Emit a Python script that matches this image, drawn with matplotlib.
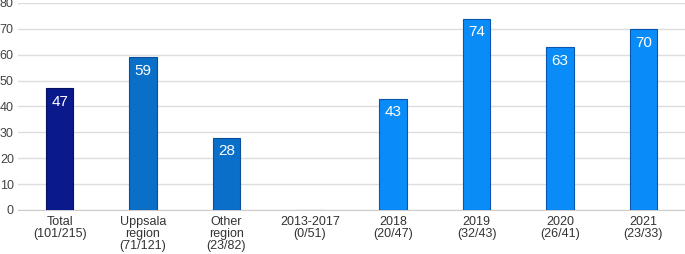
import matplotlib
matplotlib.use("Agg")
import matplotlib.pyplot as plt

categories = ["Total\n(101/215)", "Uppsala\nregion\n(71/121)", "Other\nregion\n(23/82)",
              "2013-2017\n(0/51)", "2018\n(20/47)", "2019\n(32/43)", "2020\n(26/41)", "2021\n(23/33)"]
values = [47, 59, 28, 0, 43, 74, 63, 70]
colors = ["#0a1a8c", "#0a6fc8", "#0a6fc8", "#0a8cf8", "#0a8cf8", "#0a8cf8", "#0a8cf8", "#0a8cf8"]
edges = ["#061060", "#0a4f9a", "#0a4f9a", "#0a55b0", "#0a55b0", "#0a55b0", "#0a55b0", "#0a55b0"]
yticks = [0, 10, 20, 30, 40, 50, 60, 70, 80]

plt.rcParams['font.family'] = ['Liberation Sans', 'DejaVu Sans']
fig = plt.figure(figsize=(6.85, 2.54), dpi=100)
ax = fig.add_axes([18/685, 44/254, 1 - 18/685, (210 - 3)/254])

x = list(range(len(values)))
bars = ax.bar(x, values, width=0.33, color=colors, edgecolor=edges, linewidth=0.8, zorder=3)
for xi, v in zip(x, values):
    if v > 0:
        ax.text(xi, v - 2.6, str(v), ha="center", va="top", color="white", fontsize=11, zorder=4)

ax.set_xlim(-0.5, len(values) - 0.5)
ax.set_ylim(0, 80)
ax.set_yticks(yticks)
ax.set_xticks(x)
ax.set_xticklabels(categories, fontsize=9, color="#333333", linespacing=1.05)
ax.tick_params(axis="y", labelsize=9, labelcolor="#444444", length=0, pad=3)
ax.tick_params(axis="x", length=0, pad=4)
ax.grid(axis="y", color="#dddddd", linewidth=1, zorder=0)
for s in ["top", "right", "left"]:
    ax.spines[s].set_visible(False)
ax.spines["bottom"].set_color("#cccccc")

fig.savefig("out.png", dpi=100)
